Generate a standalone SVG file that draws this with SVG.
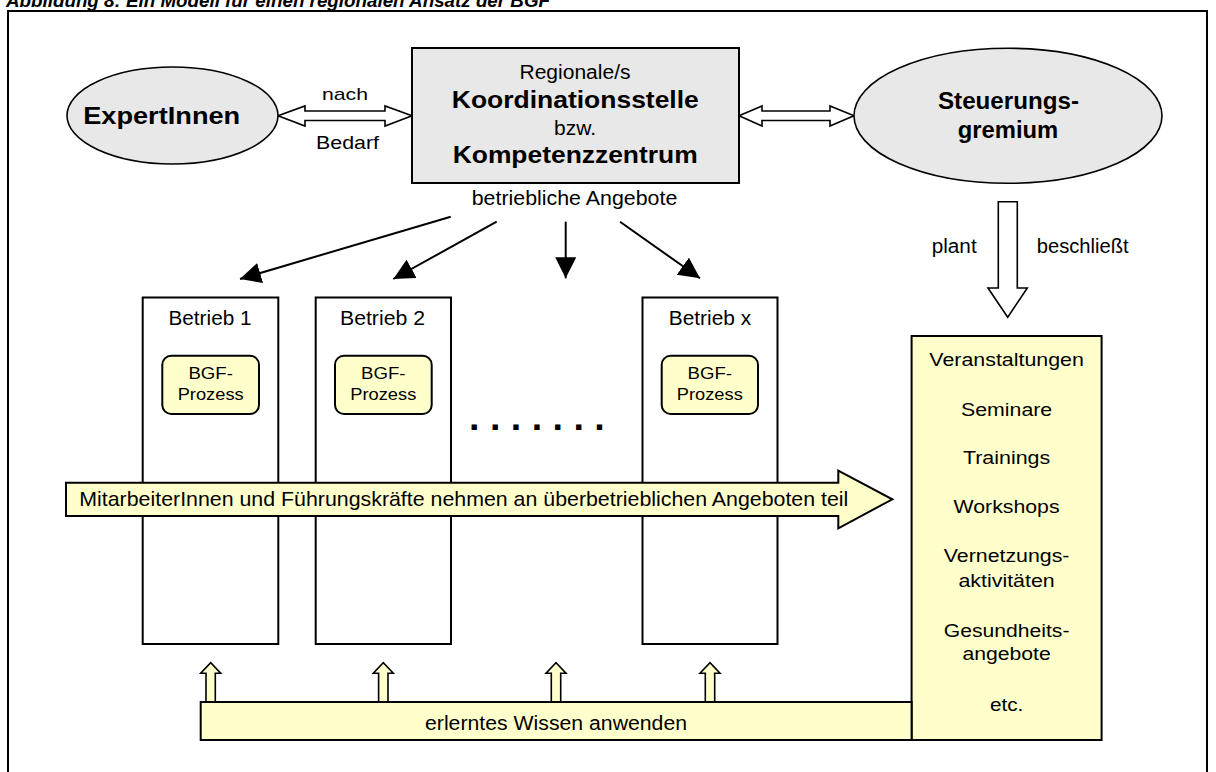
<svg xmlns="http://www.w3.org/2000/svg" width="1216" height="772" viewBox="0 0 1216 772">
  <style>
    text { font-family: "Liberation Sans", Arial, sans-serif; fill: #000; }
    .b { font-weight: bold; }
    .mid { text-anchor: middle; }
    .grey { fill: #e8e8e8; stroke: #000; stroke-width: 1.6; }
    .box { fill: #e8e8e8; stroke: #000; stroke-width: 2; }
    .plant { fill: #fff; stroke: #000; stroke-width: 2; }
    .yel { fill: #ffffcc; stroke: #000; stroke-width: 2; }
    .hollow { fill: #fff; stroke: #000; stroke-width: 1.6; stroke-linejoin: miter; }
    .up { fill: #ffffcc; stroke: #000; stroke-width: 1.6; }
    .solid { stroke: #000; stroke-width: 2; fill: none; marker-end: url(#head); }
  </style>
  <defs>
    <marker id="head" markerUnits="userSpaceOnUse" markerWidth="24" markerHeight="24" refX="21" refY="10.5" orient="auto">
      <path d="M0,0 L21,10.5 L0,21 z" fill="#000"/>
    </marker>
  </defs>

  <rect width="1216" height="772" fill="#fff"/>

  <!-- caption (runs off the top edge) -->
  <text x="6" y="7" class="b" font-style="italic" font-size="18.8">Abbildung 8: Ein Modell für einen regionalen Ansatz der BGF</text>

  <!-- outer frame -->
  <rect x="8" y="11" width="1199" height="800" fill="none" stroke="#000" stroke-width="2"/>

  <!-- connectors -->
  <g id="connectors">
    <!-- ExpertInnen <-> Koordinationsstelle -->
    <polygon class="hollow" points="278,115.7 305,106 305,111 385,111 385,106 412,115.7 385,126 385,120.5 305,120.5 305,126"/>
    <!-- Koordinationsstelle <-> Steuerungsgremium -->
    <polygon class="hollow" points="739,115.7 762,106 762,111 830,111 830,106 854,115.7 830,126 830,120.5 762,120.5 762,126"/>
    <!-- Steuerungsgremium plant/beschließt -->
    <polygon class="hollow" points="998.3,201.7 1017.3,201.7 1017.3,288 1027.3,288 1007.7,317.3 988,288 998.3,288"/>
    <!-- betriebliche Angebote -->
    <line class="solid" x1="450.7" y1="216.7" x2="240" y2="279"/>
    <line class="solid" x1="496.7" y1="221.7" x2="393.3" y2="279"/>
    <line class="solid" x1="565.7" y1="221.7" x2="565.7" y2="278.3"/>
    <line class="solid" x1="620" y1="221.7" x2="700" y2="278.3"/>
  </g>

  <g id="experten">
    <ellipse class="grey" cx="172.5" cy="115.5" rx="105.5" ry="48.5"/>
    <text x="161.7" y="124" class="b mid" font-size="23" textLength="157" lengthAdjust="spacingAndGlyphs">ExpertInnen</text>
  </g>

  <g id="bedarf-label">
    <text x="345" y="100" class="mid" font-size="17" textLength="46" lengthAdjust="spacingAndGlyphs">nach</text>
    <text x="347.5" y="149.3" class="mid" font-size="18" textLength="63" lengthAdjust="spacingAndGlyphs">Bedarf</text>
  </g>

  <g id="koordination">
    <rect class="box" x="412" y="48" width="327" height="135"/>
    <text x="575" y="79.3" class="mid" font-size="20" textLength="111" lengthAdjust="spacingAndGlyphs">Regionale/s</text>
    <text x="575.3" y="108.3" class="b mid" font-size="24" textLength="247" lengthAdjust="spacingAndGlyphs">Koordinationsstelle</text>
    <text x="575" y="135" class="mid" font-size="20" textLength="42" lengthAdjust="spacingAndGlyphs">bzw.</text>
    <text x="575.2" y="163.3" class="b mid" font-size="24" textLength="245" lengthAdjust="spacingAndGlyphs">Kompetenzzentrum</text>
    <text x="574.5" y="205" class="mid" font-size="20" textLength="205.6" lengthAdjust="spacingAndGlyphs">betriebliche Angebote</text>
  </g>

  <g id="steuerung">
    <ellipse class="grey" cx="1008" cy="115.8" rx="154" ry="67.5"/>
    <text x="1008.5" y="109.3" class="b mid" font-size="23" textLength="141" lengthAdjust="spacingAndGlyphs">Steuerungs-</text>
    <text x="1008" y="138" class="b mid" font-size="23" textLength="100.6" lengthAdjust="spacingAndGlyphs">gremium</text>
    <text x="954.2" y="253.3" class="mid" font-size="19.5" textLength="45" lengthAdjust="spacingAndGlyphs">plant</text>
    <text x="1036.7" y="253.3" font-size="19.5" textLength="92" lengthAdjust="spacingAndGlyphs">beschließt</text>
  </g>

  <g id="betrieb-1">
    <rect class="plant" x="142.7" y="297.5" width="135.6" height="346.5"/>
    <text x="210" y="325" class="mid" font-size="20" textLength="83" lengthAdjust="spacingAndGlyphs">Betrieb 1</text>
    <rect class="yel" x="162.3" y="355.7" width="96.7" height="58.3" rx="9"/>
    <text x="210.7" y="379" class="mid" font-size="17" textLength="44.5" lengthAdjust="spacingAndGlyphs">BGF-</text>
    <text x="210.7" y="400" class="mid" font-size="17" textLength="66" lengthAdjust="spacingAndGlyphs">Prozess</text>
  </g>

  <g id="betrieb-2">
    <rect class="plant" x="315.7" y="297.5" width="135.3" height="346.5"/>
    <text x="382.5" y="325" class="mid" font-size="20" textLength="85" lengthAdjust="spacingAndGlyphs">Betrieb 2</text>
    <rect class="yel" x="335" y="355.7" width="96.7" height="58.3" rx="9"/>
    <text x="383.3" y="379" class="mid" font-size="17" textLength="44.5" lengthAdjust="spacingAndGlyphs">BGF-</text>
    <text x="383.3" y="400" class="mid" font-size="17" textLength="66" lengthAdjust="spacingAndGlyphs">Prozess</text>
  </g>

  <g id="ellipsis">
    <text x="469" y="429.5" class="b" font-size="37.6">. . . . . . .</text>
  </g>

  <g id="betrieb-x">
    <rect class="plant" x="642.5" y="297.5" width="135" height="346.5"/>
    <text x="710" y="325" class="mid" font-size="20" textLength="82.5" lengthAdjust="spacingAndGlyphs">Betrieb x</text>
    <rect class="yel" x="661.7" y="355.7" width="96.3" height="58.3" rx="9"/>
    <text x="709.8" y="379" class="mid" font-size="17" textLength="44.4" lengthAdjust="spacingAndGlyphs">BGF-</text>
    <text x="709.8" y="400" class="mid" font-size="17" textLength="66" lengthAdjust="spacingAndGlyphs">Prozess</text>
  </g>

  <g id="teilnahme">
    <polygon class="yel" points="66,482.7 838.3,482.7 838.3,470.7 892.3,499.3 838.3,528.3 838.3,516 66,516"/>
    <text x="79.3" y="506" font-size="21" textLength="769" lengthAdjust="spacingAndGlyphs">MitarbeiterInnen und Führungskräfte nehmen an überbetrieblichen Angeboten teil</text>
  </g>

  <g id="angebote">
    <rect class="yel" x="911.6" y="336" width="190" height="404"/>
    <g font-size="18.7">
      <text x="1006.6" y="366" class="mid" textLength="154.5" lengthAdjust="spacingAndGlyphs">Veranstaltungen</text>
      <text x="1006.6" y="415.7" class="mid" textLength="91.2" lengthAdjust="spacingAndGlyphs">Seminare</text>
      <text x="1006.6" y="464.3" class="mid" textLength="87.3" lengthAdjust="spacingAndGlyphs">Trainings</text>
      <text x="1006.6" y="513" class="mid" textLength="106" lengthAdjust="spacingAndGlyphs">Workshops</text>
      <text x="1006.6" y="561.7" class="mid" textLength="125.7" lengthAdjust="spacingAndGlyphs">Vernetzungs-</text>
      <text x="1006.6" y="587.3" class="mid" textLength="96.3" lengthAdjust="spacingAndGlyphs">aktivitäten</text>
      <text x="1006.6" y="636.5" class="mid" textLength="125.7" lengthAdjust="spacingAndGlyphs">Gesundheits-</text>
      <text x="1006.6" y="660" class="mid" textLength="88.4" lengthAdjust="spacingAndGlyphs">angebote</text>
      <text x="1006.6" y="710.7" class="mid" textLength="33.4" lengthAdjust="spacingAndGlyphs">etc.</text>
    </g>
  </g>

  <g id="anwenden">
    <polygon class="up" points="206,702 206,673.3 200.7,673.3 210.7,662.7 220.7,673.3 215.3,673.3 215.3,702"/>
    <polygon class="up" points="378.6,702 378.6,673.3 373.3,673.3 383.3,662.7 393.3,673.3 388,673.3 388,702"/>
    <polygon class="up" points="551.3,702 551.3,673.3 546,673.3 556,662.7 566,673.3 560.7,673.3 560.7,702"/>
    <polygon class="up" points="705.3,702 705.3,673.3 700,673.3 710,662.7 720,673.3 714.7,673.3 714.7,702"/>
    <rect class="yel" x="200.7" y="702" width="710.9" height="38"/>
    <text x="556" y="730" class="mid" font-size="20" textLength="262" lengthAdjust="spacingAndGlyphs">erlerntes Wissen anwenden</text>
  </g>
</svg>
